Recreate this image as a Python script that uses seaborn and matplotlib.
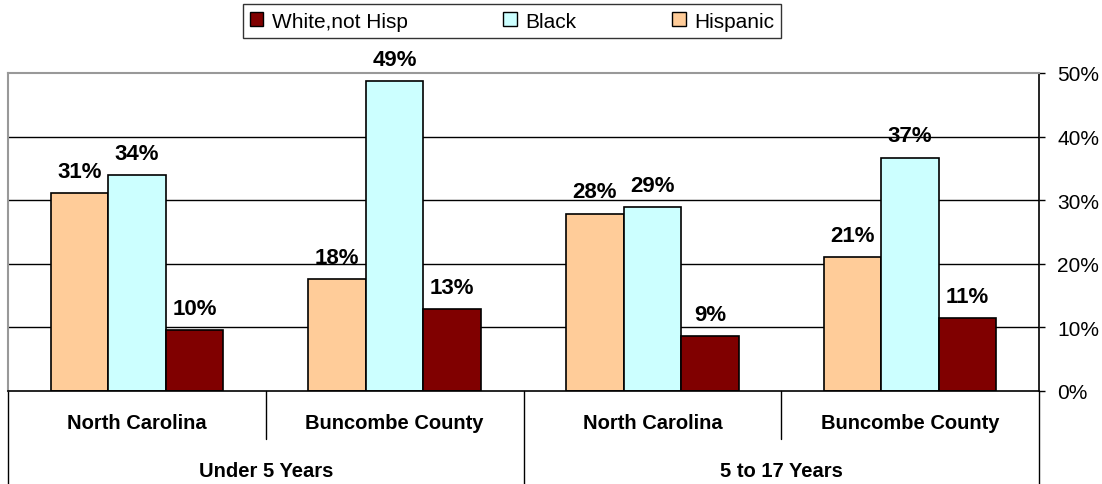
import numpy as np
import pandas as pd
import matplotlib
matplotlib.use("Agg")
import matplotlib.pyplot as plt
import matplotlib.transforms as mtransforms
from matplotlib.patches import Patch
import seaborn as sns

# data (percent)
age_groups = ["Under 5 Years", "5 to 17 Years"]
areas = ["North Carolina", "Buncombe County"]
races = ["Hispanic", "Black", "White,not Hisp"]
hispanic = [31.1, 17.6, 27.9, 21.0]
black = [34.0, 48.7, 28.9, 36.7]
white = [9.6, 12.9, 8.6, 11.4]
colors = {"Hispanic": "#FFCC99", "Black": "#CCFFFF", "White,not Hisp": "#800000"}

cats = [a + "|" + b for a in age_groups for b in areas]
rows = []
for race, vals in zip(races, [hispanic, black, white]):
    for c, v in zip(cats, vals):
        rows.append({"cat": c, "race": race, "value": v})
df = pd.DataFrame(rows)

sns.set_style("white")
plt.rcParams["font.family"] = ["Liberation Sans", "DejaVu Sans"]
plt.rcParams["text.color"] = "black"
plt.rcParams["ytick.color"] = "black"
plt.rcParams["ytick.labelcolor"] = "black"

fig = plt.figure(figsize=(11.02, 4.85), dpi=100)
ax = fig.add_axes([8 / 1102, 93 / 485, 1031 / 1102, 318 / 485])

sns.barplot(data=df, x="cat", y="value", hue="race", order=cats,
            hue_order=races, palette=colors, width=0.67, ax=ax,
            edgecolor="black", linewidth=1.2, legend=False, saturation=1)

for cont in ax.containers:
    ax.bar_label(cont, labels=[f"{round(v)}%" for v in cont.datavalues],
                 padding=8, fontsize=16, fontweight="bold", color="black")

ax.set_xlim(-0.5, 3.5)
ax.set_ylim(0, 50)
ax.set_yticks(np.arange(0, 51, 10))
ax.set_yticklabels([f"{t}%" for t in range(0, 51, 10)], fontsize=15)
ax.yaxis.tick_right()
ax.tick_params(axis="y", direction="out", length=4, width=1, color="black", pad=9)
ax.set_xticks([])
ax.set_xlabel("")
ax.set_ylabel("")
for y in [10, 20, 30, 40]:
    ax.axhline(y, color="black", lw=1, zorder=0)
ax.set_axisbelow(True)

for s in ["left", "top"]:
    ax.spines[s].set_color("#999999")
    ax.spines[s].set_linewidth(1.5)
for s in ["right", "bottom"]:
    ax.spines[s].set_color("black")
    ax.spines[s].set_linewidth(1.2)
for s in ax.spines:
    ax.spines[s].set_visible(True)

# category table below the axis
tr = mtransforms.blended_transform_factory(ax.transData, ax.transAxes)
for x, y0 in [(-0.5, -0.3), (0.5, -0.15), (1.5, -0.3), (2.5, -0.15), (3.5, -0.3)]:
    ax.plot([x, x], [0, y0], color="black", lw=1, transform=tr, clip_on=False)
for i, c in enumerate(cats):
    ax.text(i, -0.1, c.split("|")[1], transform=tr, ha="center", va="center",
            fontsize=14.5, fontweight="bold", color="black")
for j, a in enumerate(age_groups):
    ax.text(0.5 + 2 * j, -0.25, a, transform=tr, ha="center", va="center",
            fontsize=14.5, fontweight="bold", color="black")

handles = [Patch(facecolor=colors[r], edgecolor="black", label=r) for r in races[::-1]]
leg = fig.legend(handles=handles, ncol=3, loc="center",
                 bbox_to_anchor=(512 / 1102, 1 - 22 / 485), fontsize=15,
                 frameon=True, fancybox=False, edgecolor="black",
                 handlelength=0.65, handleheight=0.65, columnspacing=4.6,
                 handletextpad=0.4, borderpad=0.35, borderaxespad=0)
leg.get_frame().set_linewidth(1)
for t in leg.get_texts():
    t.set_color("black")

fig.savefig("out.png", dpi=100)
